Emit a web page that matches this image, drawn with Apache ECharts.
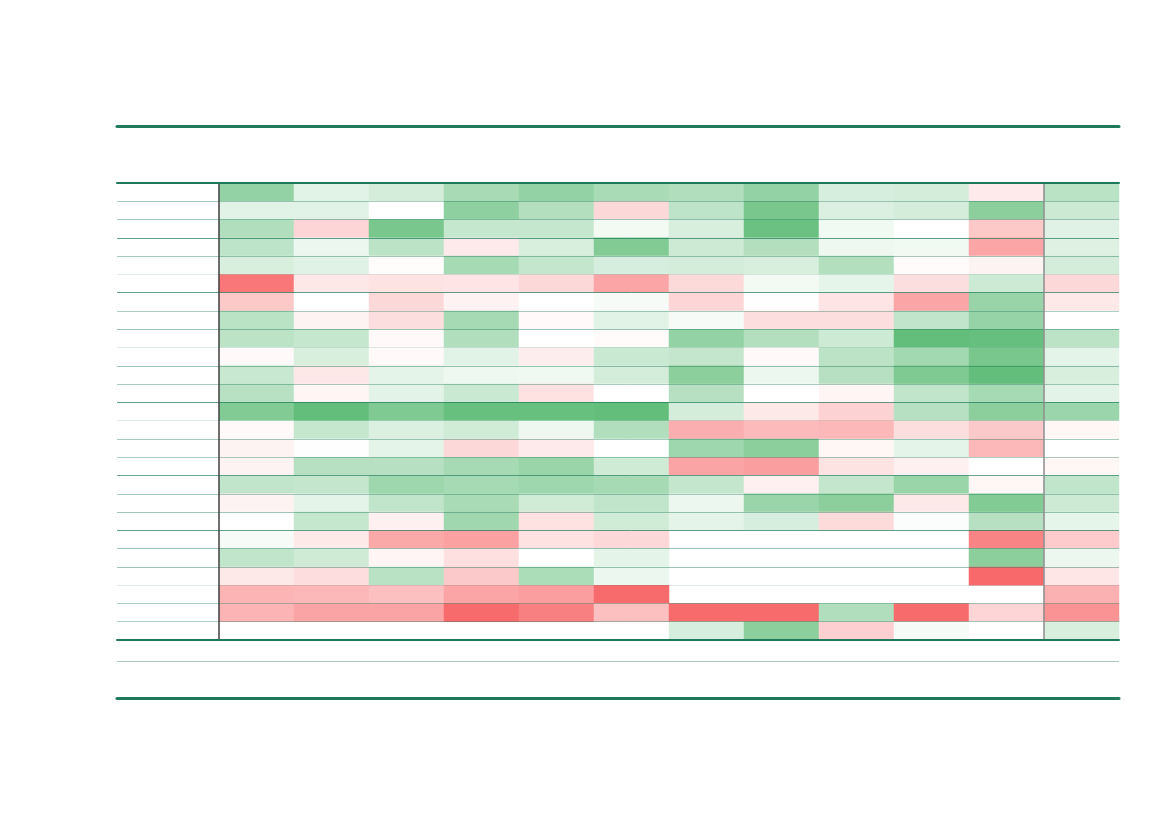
<!DOCTYPE html>
<html>
<head>
<meta charset="utf-8">
<script src="https://cdn.jsdelivr.net/npm/echarts@6/dist/echarts.min.js"></script>
<style>
html,body{margin:0;padding:0;background:#ffffff;}
#chart{width:1169px;height:827px;}
</style>
</head>
<body>
<div id="chart"></div>
<script>
// ---- data ----
const columns = ['C1','C2','C3','C4','C5','C6','C7','C8','C9','C10','C11','C12'];
const rows = ['R1','R2','R3','R4','R5','R6','R7','R8','R9','R10','R11','R12','R13',
              'R14','R15','R16','R17','R18','R19','R20','R21','R22','R23','R24','R25'];
const rowValues = [
  [ 0.69, 0.19, 0.28, 0.56, 0.69, 0.55, 0.50, 0.69, 0.26, 0.28,-0.14, 0.44],
  [ 0.19, 0.19, 0.00, 0.72, 0.49,-0.26, 0.42, 0.86, 0.23, 0.28, 0.74, 0.33],
  [ 0.50,-0.28, 0.86, 0.37, 0.37, 0.08, 0.25, 0.95, 0.09, 0.00,-0.37, 0.20],
  [ 0.42, 0.12, 0.43,-0.14, 0.25, 0.80, 0.32, 0.49, 0.11, 0.09,-0.60, 0.21],
  [ 0.25, 0.20,-0.02, 0.57, 0.38, 0.26, 0.28, 0.25, 0.49,-0.03,-0.08, 0.28],
  [-0.91,-0.16,-0.19,-0.18,-0.26,-0.60,-0.25, 0.08, 0.16,-0.22, 0.32,-0.26],
  [-0.37, 0.00,-0.26,-0.09, 0.00, 0.06,-0.28,-0.01,-0.18,-0.60, 0.66,-0.15],
  [ 0.44,-0.08,-0.22, 0.57,-0.04, 0.19, 0.06,-0.22,-0.22, 0.40, 0.67, 0.00],
  [ 0.43, 0.37,-0.04, 0.50, 0.00,-0.03, 0.69, 0.49, 0.32, 1.00, 0.98, 0.43],
  [-0.04, 0.25,-0.04, 0.19,-0.12, 0.34, 0.38,-0.04, 0.43, 0.59, 0.86, 0.17],
  [ 0.35,-0.16, 0.17, 0.11, 0.10, 0.28, 0.74, 0.12, 0.47, 0.82, 1.00, 0.25],
  [ 0.46,-0.07, 0.18, 0.34,-0.20, 0.00, 0.47, 0.00,-0.07, 0.40, 0.57, 0.18],
  [ 0.80, 1.00, 0.82, 0.97, 0.97, 1.00, 0.28,-0.15,-0.30, 0.47, 0.74, 0.64],
  [-0.04, 0.37, 0.23, 0.30, 0.11, 0.50,-0.54,-0.46,-0.48,-0.22,-0.36,-0.06],
  [-0.08,-0.01, 0.17,-0.26,-0.14, 0.00, 0.62, 0.74,-0.06, 0.17,-0.48, 0.00],
  [-0.08, 0.47, 0.47, 0.57, 0.65, 0.31,-0.61,-0.65,-0.19,-0.10, 0.00,-0.06],
  [ 0.40, 0.38, 0.62, 0.57, 0.62, 0.57, 0.38,-0.10, 0.38, 0.65,-0.06, 0.40],
  [-0.08, 0.17, 0.40, 0.55, 0.30, 0.40, 0.12, 0.65, 0.74,-0.15, 0.80, 0.32],
  [ 0.00, 0.37,-0.10, 0.61,-0.20, 0.30, 0.17, 0.26,-0.24, 0.03, 0.47, 0.16],
  [ 0.06,-0.15,-0.58,-0.63,-0.20,-0.26, null, null, null, null,-0.82,-0.35],
  [ 0.40, 0.31,-0.07,-0.21, 0.00, 0.17, null, null, null, null, 0.74, 0.12],
  [-0.15,-0.23, 0.45,-0.36, 0.53, 0.12, null, null, null, null,-1.00,-0.17],
  [-0.50,-0.48,-0.42,-0.60,-0.65,-0.99, null, null, null, null, null,-0.52],
  [-0.50,-0.61,-0.61,-0.99,-0.85,-0.42,-0.99,-0.99, 0.50,-0.99,-0.28,-0.72],
  [ null, null, null, null, null, null, 0.26, 0.74,-0.32, 0.06, 0.00, 0.25]
];

// ---- style (row rule strengths, not data) ----
const ruleAlpha = [0.0,0.38,0.41,0.71,0.41,0.14,0.71,0.37,0.45,0.14,0.44,0.38,0.71,
                   0.14,0.40,0.37,0.65,0.38,0.42,0.71,0.42,0.43,0.14,0.37,0.37,0.0];
const ruleColors = ruleAlpha.map(a => 'rgba(31,122,92,' + a + ')');
const dark = '#1f7a5c';

// ---- build series data ----
const mainCols = columns.slice(0, 11);
const lastCols = columns.slice(11);
const mainData = [], lastData = [];
rowValues.forEach((r, ri) => {
  r.forEach((v, ci) => {
    const val = (v === null) ? '-' : v;
    if (ci < 11) mainData.push([ci, ri, val]);
    else lastData.push([0, ri, val]);
  });
});

const hidden = {axisLabel:{show:false}, axisTick:{show:false}, splitLine:{show:false}, axisLine:{show:false}};

const chart = echarts.init(document.getElementById('chart'), null, {renderer:'canvas'});
chart.setOption({
  animation: false,
  backgroundColor: '#ffffff',
  grid: [
    {left:117, top:183, width:102, height:457},   // label column
    {left:219, top:183, width:825, height:457},   // main block
    {left:1044, top:183, width:75, height:457},   // last column
    {left:117, top:183, width:1002, height:457},  // body frame
    {left:117, top:126, width:1002, height:572}   // outer frame
  ],
  xAxis: [
    Object.assign({type:'category', gridIndex:0, data:['label']}, hidden),
    Object.assign({type:'category', gridIndex:1, data:mainCols}, hidden),
    Object.assign({type:'category', gridIndex:2, data:lastCols}, hidden),
    {type:'value', gridIndex:3, position:'top', min:0, max:1, z:6,
     axisLabel:{show:false}, axisTick:{show:false}, splitLine:{show:false},
     axisLine:{show:true, onZero:false, lineStyle:{color:dark, width:2}}},
    {type:'value', gridIndex:3, position:'bottom', min:0, max:1, z:6,
     axisLabel:{show:false}, axisTick:{show:false}, splitLine:{show:false},
     axisLine:{show:true, onZero:false, lineStyle:{color:dark, width:2}}},
    {type:'value', gridIndex:4, position:'top', min:0, max:1, z:6,
     axisLabel:{show:false}, axisTick:{show:false}, splitLine:{show:false},
     axisLine:{show:true, onZero:false, lineStyle:{color:dark, width:3}}},
    {type:'value', gridIndex:4, position:'bottom', min:0, max:1, z:6,
     axisLabel:{show:false}, axisTick:{show:false}, splitLine:{show:false},
     axisLine:{show:true, onZero:false, lineStyle:{color:dark, width:3}}}
  ],
  yAxis: [
    {type:'category', gridIndex:0, data:rows, inverse:true, z:3,
     axisLabel:{show:false}, axisTick:{show:false}, axisLine:{show:false},
     splitLine:{show:true, lineStyle:{color:ruleColors, width:1}}},
    {type:'category', gridIndex:1, data:rows, inverse:true, z:3,
     axisLabel:{show:false}, axisTick:{show:false},
     axisLine:{show:true, onZero:false, lineStyle:{color:'#404040', width:1.5}},
     splitLine:{show:true, lineStyle:{color:ruleColors, width:1}}},
    {type:'category', gridIndex:2, data:rows, inverse:true, z:3,
     axisLabel:{show:false}, axisTick:{show:false},
     axisLine:{show:true, onZero:false, lineStyle:{color:'#8c8c8c', width:1.5}},
     splitLine:{show:true, lineStyle:{color:ruleColors, width:1}}},
    Object.assign({type:'value', gridIndex:3, min:0, max:1}, hidden),
    {type:'value', gridIndex:4, min:0, max:572, interval:535, inverse:true, z:1,
     axisLabel:{show:false}, axisTick:{show:false}, axisLine:{show:false},
     splitLine:{show:true, lineStyle:{color:['rgba(0,0,0,0)','#a9c9bc','rgba(0,0,0,0)'], width:1}}}
  ],
  visualMap: {
    type:'continuous', show:false, min:-1, max:1, seriesIndex:[0,1],
    inRange:{color:['#f8696b','#ffffff','#63be7b']}
  },
  series: [
    {type:'heatmap', xAxisIndex:1, yAxisIndex:1, data:mainData, z:2,
     itemStyle:{borderWidth:0}, emphasis:{disabled:true}},
    {type:'heatmap', xAxisIndex:2, yAxisIndex:2, data:lastData, z:2,
     itemStyle:{borderWidth:0}, emphasis:{disabled:true}}
  ]
});
</script>
</body>
</html>
